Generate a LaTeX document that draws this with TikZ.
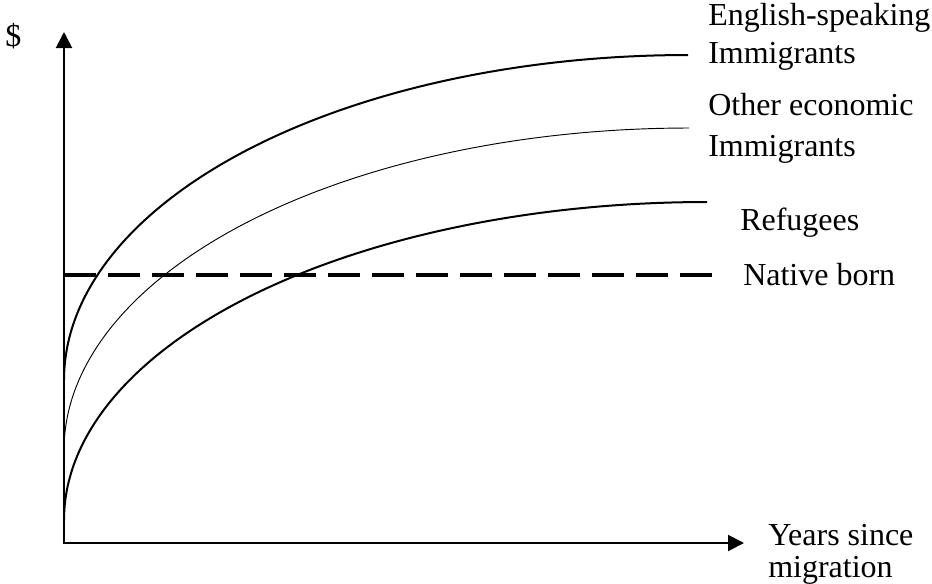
\documentclass[tikz,border=0pt]{standalone}
\usepackage{fontspec}
\setmainfont{Liberation Serif}
\usetikzlibrary{arrows.meta}
\begin{document}
\begin{tikzpicture}[x=0.75pt,y=-0.75pt,
  lbl/.style={anchor=base west, inner sep=0pt, font=\fontsize{24}{28}\selectfont},
  axisline/.style={line width=1.5pt, {Triangle[length=12pt,width=12pt]}-{Triangle[length=12pt,width=12pt]}},
  boldcurve/.style={line width=1.5pt},
  thincurve/.style={line width=0.7pt},
  nativeline/.style={line width=2.6pt, dash pattern=on 24pt off 9pt}]
\useasboundingbox (0,0) rectangle (932,583);
% axes
\coordinate (O) at (64,543);
\coordinate (ytip) at (64,32);
\coordinate (xtip) at (744,543);
\draw[axisline] (ytip) -- (O) -- (xtip);
% curves
\draw[boldcurve] plot[domain=180:270, samples=120, smooth] ({688+624*cos(\x)}, {380+325*sin(\x)});
\draw[thincurve] plot[domain=180:270, samples=120, smooth] ({689+625*cos(\x)}, {450+322*sin(\x)});
\draw[boldcurve] plot[domain=180:270, samples=120, smooth] ({707+643*cos(\x)}, {520+318*sin(\x)});
% native born
\coordinate (n0) at (64,275);
\coordinate (n1) at (712,275);
\draw[nativeline] (n0) -- (n1);
% labels
\node[lbl] (dollar) at (5,46) {\$};
\node[lbl] (eng1) at (708,25) {English-speaking};
\node[lbl] (eng2) at (708,63) {Immigrants};
\node[lbl] (oth1) at (708,115) {Other economic};
\node[lbl] (oth2) at (708,156) {Immigrants};
\node[lbl] (ref) at (740,230) {Refugees};
\node[lbl] (nat) at (743,285) {Native born};
\node[lbl] (yrs1) at (768,545) {Years since};
\node[lbl] (yrs2) at (768,577) {migration};
\end{tikzpicture}
\end{document}
